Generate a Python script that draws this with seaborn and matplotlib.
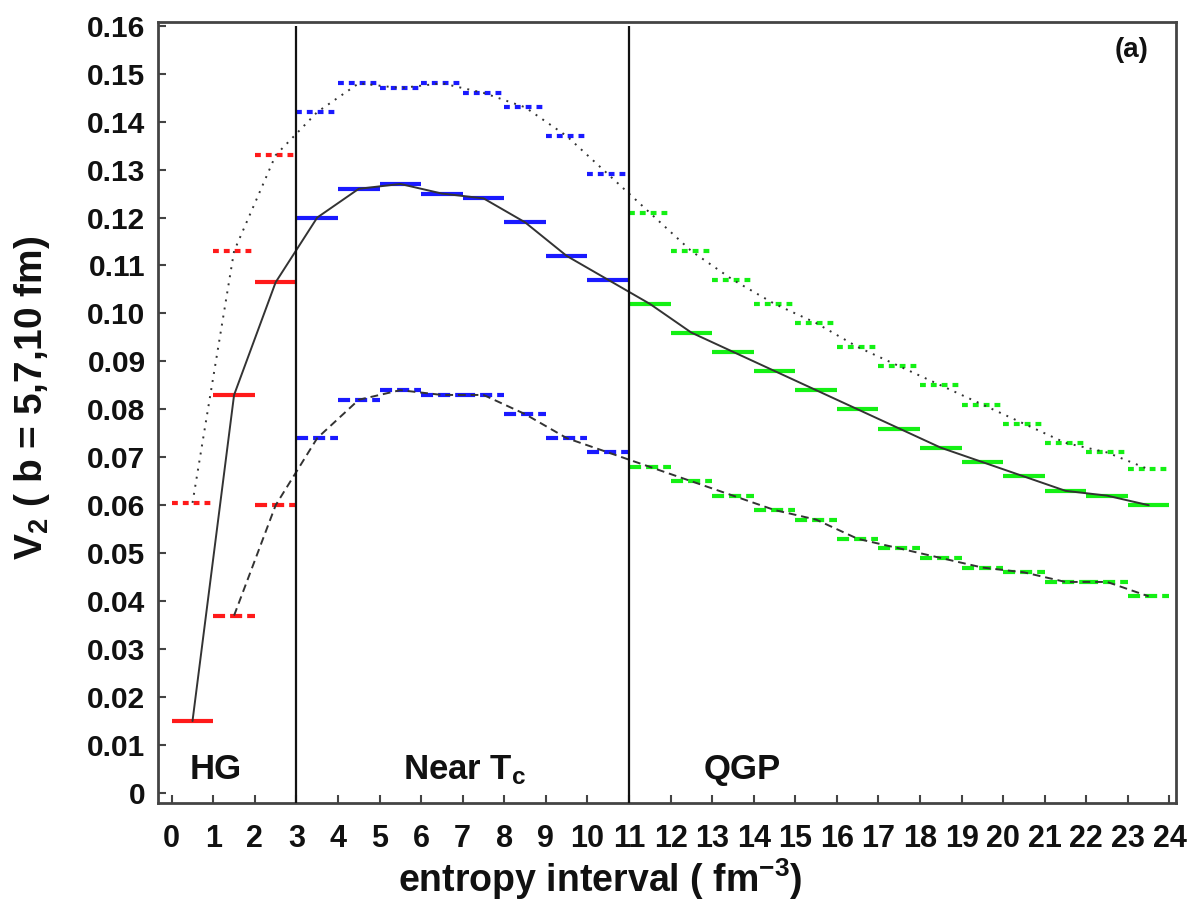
import numpy as np
import pandas as pd
import matplotlib
matplotlib.use("Agg")
import matplotlib.pyplot as plt
import seaborn as sns

# lower edge of each entropy-density interval (fm^-3)
interval_start = list(range(24))

# v2 per interval for the three impact parameters
v2_dotted = [0.0605, 0.113, 0.133, 0.142, 0.148, 0.147, 0.148, 0.146, 0.143, 0.137,
             0.129, 0.121, 0.113, 0.107, 0.102, 0.098, 0.093, 0.089, 0.085, 0.081,
             0.077, 0.073, 0.071, 0.0675]
v2_solid = [0.015, 0.083, 0.1065, 0.120, 0.126, 0.127, 0.125, 0.124, 0.119, 0.112,
            0.107, 0.102, 0.096, 0.092, 0.088, 0.084, 0.080, 0.076, 0.072, 0.069,
            0.066, 0.063, 0.062, 0.060]
v2_dashed = [np.nan, 0.037, 0.060, 0.074, 0.082, 0.084, 0.083, 0.083, 0.079, 0.074,
             0.071, 0.068, 0.065, 0.062, 0.059, 0.057, 0.053, 0.051, 0.049, 0.047,
             0.046, 0.044, 0.044, 0.041]

# phase regions: hadron gas, near Tc, QGP
region_edges = [3, 11]
region_colors = ["#ff1a1a", "#1a1aff", "#14f014"]
region_labels = ["HG", "Near T$_c$", "QGP"]
region_label_x = [1.05, 7.05, 13.73]

y_ticks = [round(0.01 * k, 2) for k in range(17)]
x_ticks = list(range(25))

sns.set_theme(style="ticks")
plt.rcParams["font.family"] = ["Liberation Sans", "DejaVu Sans"]
plt.rcParams["font.weight"] = "bold"
plt.rcParams["mathtext.fontset"] = "custom"
plt.rcParams["mathtext.rm"] = "Liberation Sans:bold"
plt.rcParams["mathtext.bf"] = "Liberation Sans:bold"
plt.rcParams["mathtext.it"] = "Liberation Sans:bold"
plt.rcParams["mathtext.default"] = "bf"

rows = []
for name, vals in [("dotted", v2_dotted), ("solid", v2_solid), ("dashed", v2_dashed)]:
    for x0, v in zip(interval_start, vals):
        rows.append({"start": x0, "mid": x0 + 0.5, "v2": v, "series": name})
df = pd.DataFrame(rows)

fig = plt.figure(figsize=(11.88, 9.13), dpi=100)
ax = fig.add_axes([0.133, 0.1205, 0.857, 0.8555])


def region_color(x0):
    idx = int(np.searchsorted(region_edges, x0, side="right"))
    return region_colors[idx]


# horizontal bars spanning each interval, coloured by phase region
seg_styles = {"dotted": (0, (1.4, 1.2)), "solid": "solid", "dashed": (0, (2.9, 1.2))}
for name, sub in df.dropna().groupby("series"):
    ax.hlines(sub["v2"], sub["start"], sub["start"] + 1,
              colors=[region_color(s) for s in sub["start"]],
              linestyles=seg_styles[name], linewidth=3.0, zorder=2)

# black guide lines through the interval midpoints
sns.lineplot(data=df.dropna(), x="mid", y="v2", style="series",
             dashes={"dotted": (1, 3.2), "solid": "", "dashed": (4, 2.5)},
             color="#333333", linewidth=1.4, estimator=None, sort=False,
             legend=False, ax=ax, zorder=3)

ax.vlines(region_edges, -0.0021, 0.16, colors="#111111", linewidth=1.6, zorder=4)

for lab, xl in zip(region_labels, region_label_x):
    ax.text(xl, 0.0048, lab, ha="center", va="center", fontsize=25,
            fontweight="bold", color="#111111")
ax.text(23.1, 0.1549, "(a)", ha="center", va="center", fontsize=20,
        fontweight="bold", color="#111111")

ax.set_xlim(-0.33, 24.16)
ax.set_ylim(-0.0021, 0.1608)
ax.set_xticks(x_ticks)
ax.set_xticklabels([str(t) for t in x_ticks], fontsize=22, fontweight="bold")
ax.set_yticks(y_ticks)
ax.set_yticklabels(["0" if t == 0 else f"{t:.2f}" for t in y_ticks],
                   fontsize=21.5, fontweight="bold")
ax.tick_params(axis="x", direction="in", length=6, width=1.5, color="#444444",
               pad=15, labelcolor="#111111")
ax.tick_params(axis="y", direction="in", length=6, width=1.5, color="#444444",
               pad=9, labelcolor="#111111")

ax.set_xlabel("entropy interval ( fm$^{-3}$)", fontsize=27, fontweight="bold",
              color="#111111")
ax.xaxis.set_label_coords(0.434, -0.068)
ax.set_ylabel("V$_2$ ( b = 5,7,10 fm)", fontsize=28, fontweight="bold",
              color="#111111")
ax.yaxis.set_label_coords(-0.104, 0.519)

for sp in ax.spines.values():
    sp.set_linewidth(2.0)
    sp.set_color("#444444")

fig.savefig("out.png", dpi=100, facecolor="white")
